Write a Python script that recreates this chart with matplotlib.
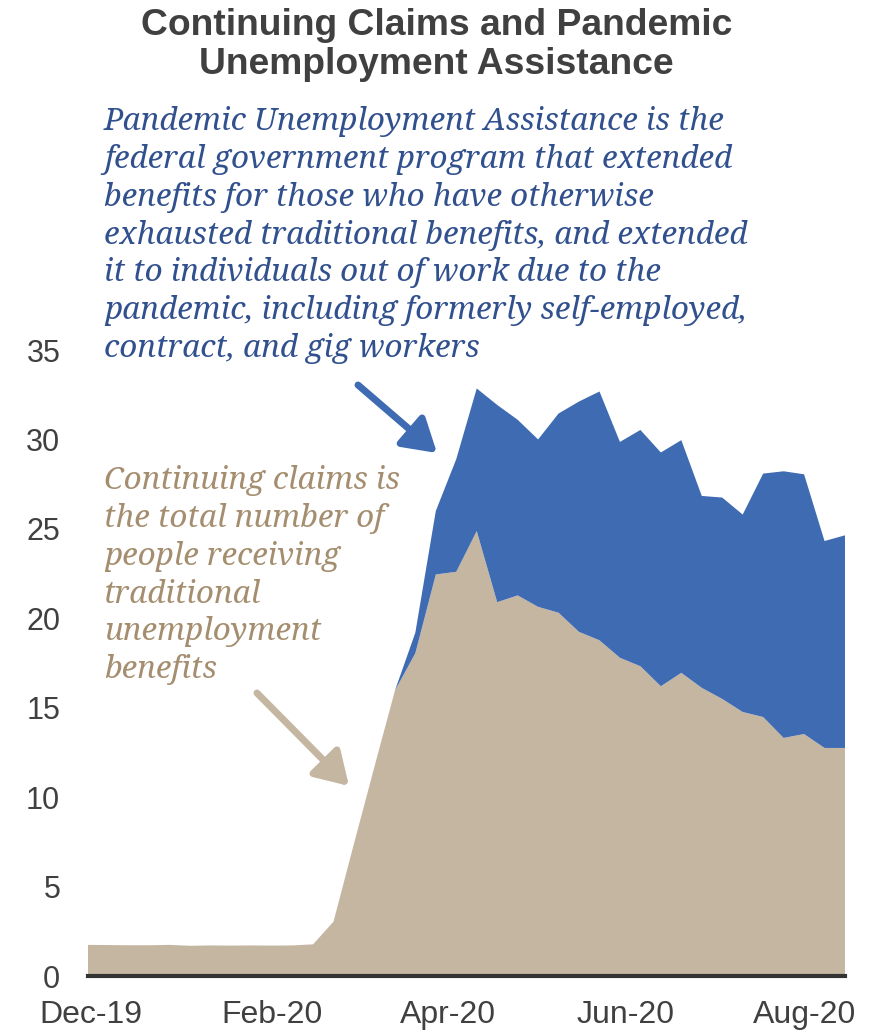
import matplotlib
matplotlib.use("Agg")
import numpy as np
import pandas as pd
import matplotlib.pyplot as plt

# weekly continuing claims and PUA claimants (millions)
weeks = pd.date_range("2019-11-30", periods=38, freq="7D")
continuing_claims = [
    1.74, 1.73, 1.72, 1.72, 1.74, 1.69, 1.71, 1.70, 1.71, 1.70, 1.71, 1.77,
    3.04, 7.40, 11.70, 15.95, 18.05, 22.45, 22.60, 24.88, 20.90, 21.28, 20.64,
    20.31, 19.24, 18.77, 17.79, 17.32, 16.20, 16.95, 16.11, 15.49, 14.76,
    14.48, 13.31, 13.53, 12.75, 12.75,
]
pua = [
    0.0, 0.0, 0.0, 0.0, 0.0, 0.0, 0.0, 0.0, 0.0, 0.0, 0.0, 0.0,
    0.0, 0.0, 0.0, 0.0, 1.15, 3.55, 6.30, 7.97, 11.03, 9.82, 9.36,
    11.14, 12.88, 13.91, 12.07, 13.21, 13.07, 13.01, 10.73, 11.26, 11.04,
    13.61, 14.91, 14.52, 11.57, 11.89,
]
tick_dates = pd.to_datetime(["2019-12-01", "2020-02-01", "2020-04-01", "2020-06-01", "2020-08-01"])
tick_labels = ["Dec-19", "Feb-20", "Apr-20", "Jun-20", "Aug-20"]
y_ticks = [0, 5, 10, 15, 20, 25, 30, 35]

BEIGE = "#C5B6A2"
BLUE = "#3F6BB3"
BLUE_TXT = "#31508E"
BEIGE_TXT = "#A58E6F"
GREY = "#404040"

W, H = 873, 1031
fig = plt.figure(figsize=(W / 100, H / 100), dpi=100)
ax = fig.add_axes([88 / W, 1 - 976 / H, 757 / W, 626 / H])

ax.stackplot(weeks, continuing_claims, pua, colors=[BEIGE, BLUE], linewidth=0)

ax.set_xlim(weeks[0], weeks[-1])
ax.set_ylim(0, 35)
ax.set_yticks(y_ticks)
ax.set_xticks(tick_dates)
ax.set_xticklabels(tick_labels)
ax.tick_params(axis="both", length=0, colors=GREY)
ax.tick_params(axis="y", pad=20, labelsize=22)
ax.tick_params(axis="x", pad=17, labelsize=23)
for lab in ax.get_yticklabels() + ax.get_xticklabels():
    lab.set_family("Liberation Sans")
for s in ["top", "right", "left"]:
    ax.spines[s].set_visible(False)
ax.spines["bottom"].set_color("#333333")
ax.spines["bottom"].set_linewidth(3)
ax.spines["bottom"].set_zorder(5)

# title
fig.text(0.5, 1 - 8 / H, "Continuing Claims and Pandemic\nUnemployment Assistance",
         ha="center", va="top", fontsize=26.8, fontweight="bold", color=GREY,
         family="Liberation Sans", linespacing=1.16)

serif = ["Noto Serif", "DejaVu Serif"]
fig.text(104 / W, 1 - 106 / H,
         "Pandemic Unemployment Assistance is the\n"
         "federal government program that extended\n"
         "benefits for those who have otherwise\n"
         "exhausted traditional benefits, and extended\n"
         "it to individuals out of work due to the\n"
         "pandemic, including formerly self-employed,\n"
         "contract, and gig workers",
         ha="left", va="top", fontsize=22.6, style="italic", color=BLUE_TXT,
         family=serif, linespacing=1.285)

fig.text(104 / W, 1 - 465 / H,
         "Continuing claims is\n"
         "the total number of\n"
         "people receiving\n"
         "traditional\n"
         "unemployment\n"
         "benefits",
         ha="left", va="top", fontsize=22.6, style="italic", color=BEIGE_TXT,
         family=serif, linespacing=1.285)

# arrows pointing into the two areas
ax.annotate("", xy=(437, H - 453), xytext=(358, H - 385), xycoords="figure pixels",
            arrowprops=dict(arrowstyle="-|>,head_length=0.9,head_width=0.55",
                            lw=5, color=BLUE, shrinkA=0, shrinkB=0, mutation_scale=22,
                            capstyle="round"))
ax.annotate("", xy=(349, H - 786), xytext=(257, H - 693), xycoords="figure pixels",
            arrowprops=dict(arrowstyle="-|>,head_length=0.9,head_width=0.55",
                            lw=5, color=BEIGE, shrinkA=0, shrinkB=0, mutation_scale=22,
                            capstyle="round"))

fig.savefig("out.png", dpi=100)
